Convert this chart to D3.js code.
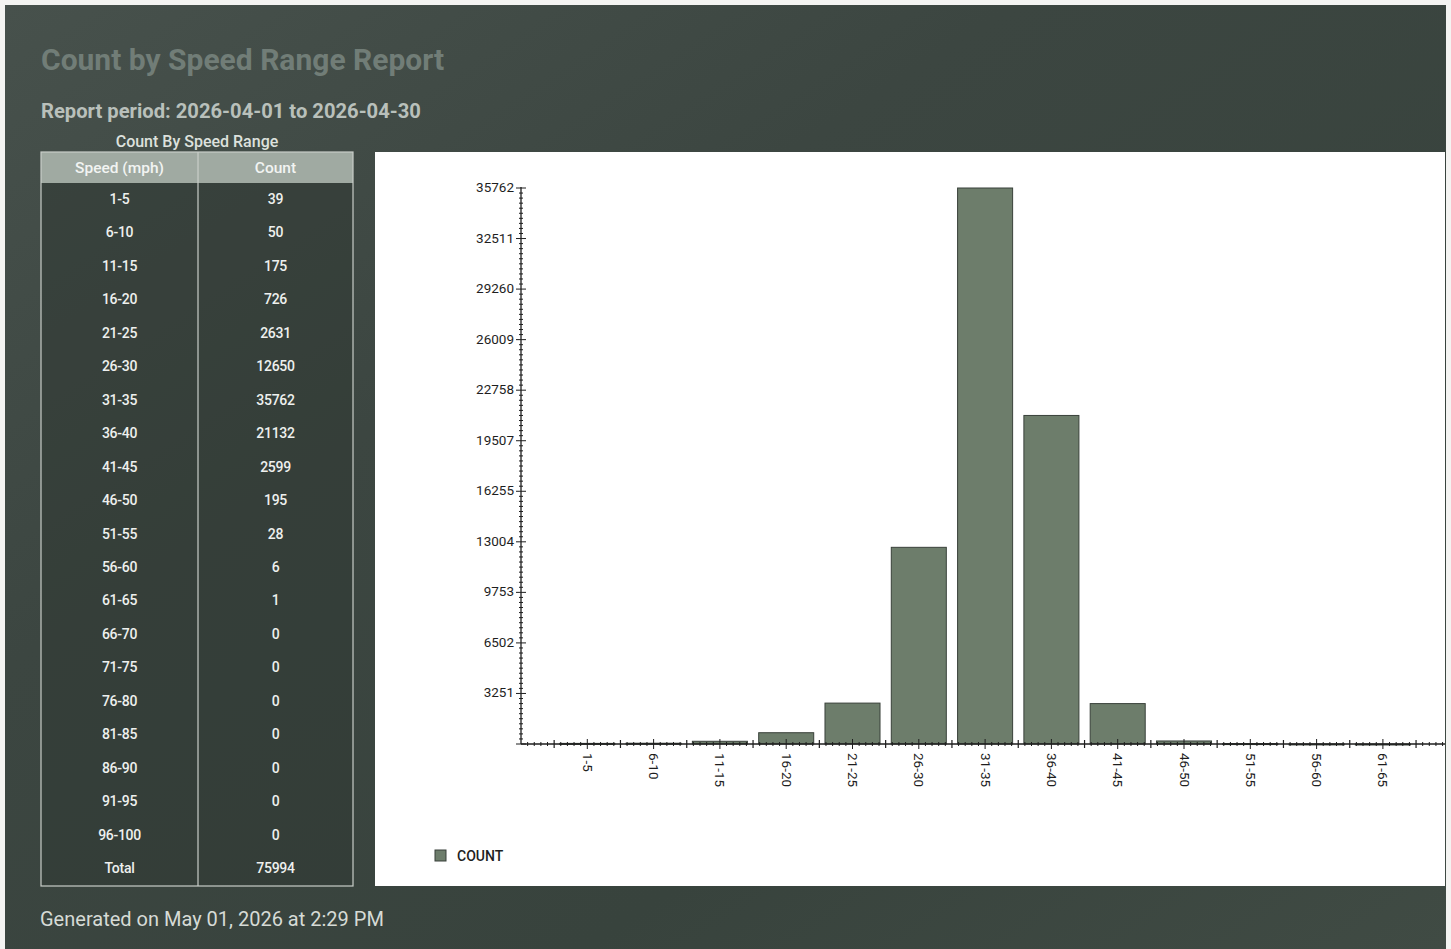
<!DOCTYPE html>
<html>
<head>
<meta charset="utf-8">
<script src="https://cdn.jsdelivr.net/npm/d3@7"></script>
<style>
  html, body { margin: 0; padding: 0; background: #f4f4f2; }
  svg { display: block; font-family: Roboto, "Noto Sans", sans-serif; }
</style>
</head>
<body>
<svg id="chart" width="1451" height="949"></svg>
<script>
// ---------- data ----------
const speedRanges = ["1-5","6-10","11-15","16-20","21-25","26-30","31-35","36-40","41-45","46-50",
  "51-55","56-60","61-65","66-70","71-75","76-80","81-85","86-90","91-95","96-100"];
const counts = [39, 50, 175, 726, 2631, 12650, 35762, 21132, 2599, 195, 28, 6, 1, 0, 0, 0, 0, 0, 0, 0];
const totalLabel = "Total";
const totalCount = 75994;
const titleText = "Count by Speed Range Report";
const periodText = "Report period: 2026-04-01 to 2026-04-30";
const tableTitle = "Count By Speed Range";
const tableHeaders = ["Speed (mph)", "Count"];
const legendLabel = "COUNT";
const footerText = "Generated on May 01, 2026 at 2:29 PM";
const yTickCount = 11;

// ---------- page ----------
const svg = d3.select("#chart");
const defs = svg.append("defs");
const g1 = defs.append("linearGradient").attr("id", "bg").attr("x1", 0).attr("y1", 0).attr("x2", 1).attr("y2", 1);
g1.append("stop").attr("offset", "0%").attr("stop-color", "#47514c");
g1.append("stop").attr("offset", "35%").attr("stop-color", "#3c4641");
g1.append("stop").attr("offset", "70%").attr("stop-color", "#38433d");
g1.append("stop").attr("offset", "100%").attr("stop-color", "#404b44");

svg.append("rect").attr("x", 5).attr("y", 5).attr("width", 1441).attr("height", 944).attr("fill", "url(#bg)");

svg.append("text").attr("x", 41).attr("y", 70).attr("font-size", 30).attr("font-weight", 700)
  .attr("fill", "#717d77").text(titleText);
svg.append("text").attr("x", 41).attr("y", 118).attr("font-size", 20.2).attr("font-weight", 700)
  .attr("fill", "#b9c0bb").text(periodText);
svg.append("text").attr("x", 197).attr("y", 147).attr("font-size", 16).attr("font-weight", 500)
  .attr("text-anchor", "middle").attr("fill", "#dde1dd").text(tableTitle);

// ---------- table ----------
const tX = 41, tW = 312, colX = 198, headY = 152, headH = 31;
const rows = speedRanges.map((s, i) => [s, counts[i]]).concat([[totalLabel, totalCount]]);
const rowScale = d3.scaleLinear().domain([0, rows.length - 1]).range([199, 868]);
const tBottom = 886;
const table = svg.append("g");
table.append("rect").attr("x", tX).attr("y", headY).attr("width", tW).attr("height", tBottom - headY)
  .attr("fill", "#2f3833").attr("fill-opacity", 0.55);
table.append("rect").attr("x", tX).attr("y", headY).attr("width", tW).attr("height", headH)
  .attr("fill", "#a0aaa2");
table.append("rect").attr("x", tX).attr("y", headY).attr("width", tW).attr("height", tBottom - headY)
  .attr("fill", "none").attr("stroke", "#c9cec9").attr("stroke-width", 1.2);
table.append("line").attr("x1", colX).attr("x2", colX).attr("y1", headY).attr("y2", tBottom)
  .attr("stroke", "#c9cec9").attr("stroke-width", 1.2);
const colCenters = [(tX + colX) / 2, (colX + tX + tW) / 2];
tableHeaders.forEach((h, i) => {
  table.append("text").attr("x", colCenters[i]).attr("y", headY + 21).attr("text-anchor", "middle")
    .attr("font-size", 15.5).attr("font-weight", 500).attr("fill", "#f2f4f2").text(h);
});
const rowG = table.selectAll("g.row").data(rows).join("g").attr("class", "row")
  .attr("transform", (d, i) => `translate(0,${rowScale(i)})`);
rowG.selectAll("text").data(d => d).join("text")
  .attr("x", (d, i) => colCenters[i]).attr("y", 5).attr("text-anchor", "middle")
  .attr("font-size", 14).attr("font-weight", 500).attr("letter-spacing", -0.3)
  .attr("fill", "#eef0ee").text(d => d);

// ---------- chart panel ----------
svg.append("rect").attr("x", 375).attr("y", 152).attr("width", 1070).attr("height", 734).attr("fill", "#ffffff");

const chartData = speedRanges.map((s, i) => ({ range: s, count: counts[i] })).filter(d => d.count > 0);
const maxVal = d3.max(chartData, d => d.count);
const x0 = 521, xEnd = 1445, yTop = 188, yBase = 744;
const x = d3.scaleLinear().domain([0, chartData.length + 1]).range([x0, x0 + 66.3 * (chartData.length + 1)]);
const y = d3.scaleLinear().domain([0, maxVal]).range([yBase, yTop]);

const chart = svg.append("g");
const ink = "#1e1e1e";

// bars
const barW = (x(1) - x(0)) * 0.83;
chart.selectAll("rect.bar").data(chartData).join("rect").attr("class", "bar")
  .attr("x", (d, i) => x(i + 1) - barW / 2).attr("width", barW)
  .attr("y", d => y(d.count)).attr("height", d => Math.max(1, yBase - y(d.count)))
  .attr("fill", "#6d7d6b").attr("stroke", "#39413a").attr("stroke-width", 1);

// y axis
const yMajor = d3.range(0, yTickCount + 1).map(k => Math.round(maxVal * k / yTickCount));
const yMinor = [];
for (let k = 0; k < yTickCount; k++) for (let m = 1; m < 10; m++) yMinor.push(maxVal * (k + m / 10) / yTickCount);
const yAxis = chart.append("g").attr("transform", `translate(${x0},0)`);
yAxis.append("line").attr("y1", yTop - 1).attr("y2", yBase).attr("stroke", ink).attr("stroke-width", 1.3);
yAxis.selectAll("line.maj").data(yMajor).join("line").attr("class", "maj")
  .attr("x1", -5).attr("x2", 5).attr("y1", d => y(d)).attr("y2", d => y(d)).attr("stroke", ink);
yAxis.selectAll("line.min").data(yMinor).join("line").attr("class", "min")
  .attr("x1", -2).attr("x2", 2).attr("y1", d => y(d)).attr("y2", d => y(d)).attr("stroke", ink);
yAxis.selectAll("text").data(yMajor.filter(v => v > 0)).join("text")
  .attr("x", -7).attr("y", d => y(d) + 4).attr("text-anchor", "end")
  .attr("font-size", 13.5).attr("fill", ink).text(d => d);

// x axis
const xMaxDomain = x.invert(xEnd);
const xAxis = chart.append("g").attr("transform", `translate(0,${yBase})`);
xAxis.append("line").attr("x1", x0).attr("x2", xEnd).attr("stroke", ink).attr("stroke-width", 1.3);
const xBounds = d3.range(0.5, xMaxDomain, 1);
const xCenters = chartData.map((d, i) => i + 1);
const xMinor = d3.range(0, xMaxDomain, 0.1).filter(v => Math.abs(v * 2 - Math.round(v * 2)) > 0.01);
xAxis.selectAll("line.min").data(xMinor).join("line").attr("class", "min")
  .attr("x1", d => x(d)).attr("x2", d => x(d)).attr("y1", -2).attr("y2", 2).attr("stroke", ink);
xAxis.selectAll("line.maj").data(xBounds).join("line").attr("class", "maj")
  .attr("x1", d => x(d)).attr("x2", d => x(d)).attr("y1", -4).attr("y2", 4).attr("stroke", ink).attr("stroke-width", 1.2);
xAxis.selectAll("line.cen").data(xCenters).join("line").attr("class", "cen")
  .attr("x1", d => x(d)).attr("x2", d => x(d)).attr("y1", -5).attr("y2", 5).attr("stroke", ink);
xAxis.selectAll("text").data(chartData).join("text")
  .attr("transform", (d, i) => `translate(${x(i + 1) - 4.5},9) rotate(90)`)
  .attr("font-size", 13.5).attr("fill", ink).text(d => d.range);

// legend
svg.append("rect").attr("x", 435).attr("y", 850).attr("width", 11).attr("height", 11)
  .attr("fill", "#6d7d6b").attr("stroke", "#39413a");
svg.append("text").attr("x", 457).attr("y", 861).attr("font-size", 14).attr("font-weight", 500)
  .attr("fill", ink).text(legendLabel);

// footer
svg.append("text").attr("x", 40).attr("y", 926).attr("font-size", 20)
  .attr("fill", "#d6dbd6").text(footerText);
</script>
</body>
</html>
